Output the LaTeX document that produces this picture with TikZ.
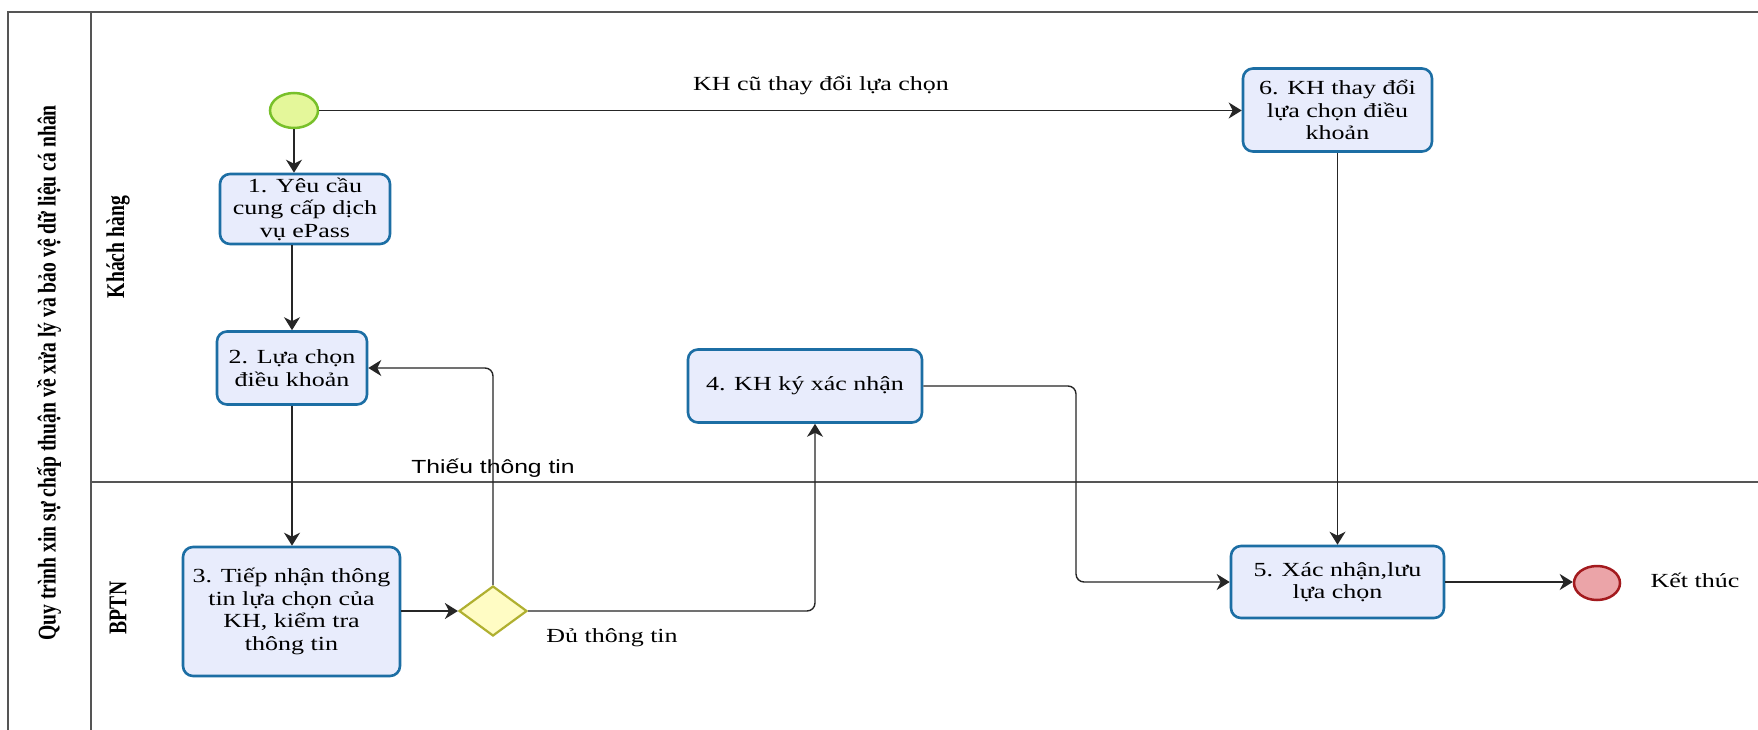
\documentclass[tikz,border=0pt]{standalone}
\usepackage{fontspec}
\setmainfont{Liberation Serif}
\newfontfamily\boxfont[FakeStretch=1.3]{Liberation Serif}
\newfontfamily\lblsans[FakeStretch=1.3]{Liberation Sans}
\newfontfamily\rotfont[FakeStretch=0.77]{Liberation Serif}
\usetikzlibrary{arrows.meta,shapes.geometric}
\definecolor{taskblue}{HTML}{1C6EA4}
\definecolor{taskfill}{HTML}{E8ECFC}
\definecolor{startline}{HTML}{78C02A}
\definecolor{startfill}{HTML}{E4F79A}
\definecolor{endline}{HTML}{A31A1E}
\definecolor{endfill}{HTML}{EBA4A8}
\definecolor{gateline}{HTML}{B0B030}
\definecolor{gatefill}{HTML}{FFFCC4}
\definecolor{poolgray}{HTML}{555555}
\begin{document}
\begin{tikzpicture}[x=1pt,y=-1pt,
  task/.style={draw=taskblue, line width=2.6pt, fill=taskfill, rounded corners=10pt,
    align=center, inner sep=0pt, font=\boxfont\fontsize{20}{22.5}\selectfont},
  conn/.style={draw=black!85, line width=1.4pt, -{Stealth[length=13pt,width=16pt,inset=4pt]}},
  pool/.style={draw=poolgray, line width=1.6pt},
  lbl/.style={font=\boxfont\fontsize{20}{22.5}\selectfont, inner sep=0pt},
  lane/.style={rotate=90, inner sep=0pt, font=\rotfont\bfseries\fontsize{25.5}{28}\selectfont}
]
\useasboundingbox (0,0) rectangle (1758,730);
\clip (0,0) rectangle (1758,730);
\fill[white] (0,0) rectangle (1758,730);

% pool and lanes
\draw[pool] (8,740) -- (8,12) -- (1770,12);
\draw[pool] (91,12) -- (91,740);
\draw[pool] (91,482) -- (1770,482);
\node[lane] (title) at (49,373) {Quy trình xin sự chấp thuận về xửa lý và bảo vệ dữ liệu cá nhân};
\node[lane] (lkh) at (118,247) {Khách hàng};
\node[lane] (lbp) at (118,608) {BPTN};

% events and gateway
\node[ellipse, draw=startline, fill=startfill, line width=2.5pt, minimum width=48pt, minimum height=35pt, inner sep=0pt] (s) at (294,110.5) {};
\node[ellipse, draw=endline, fill=endfill, line width=2.5pt, minimum width=46pt, minimum height=34pt, inner sep=0pt] (e) at (1597,583) {};
\node[diamond, draw=gateline, fill=gatefill, line width=2.2pt, minimum width=68pt, minimum height=50pt, inner sep=0pt] (d) at (493,611) {};

% tasks
\node[task, minimum width=170pt, minimum height=70pt] (b1) at (305,209) {1. Yêu cầu\\cung cấp dịch\\vụ ePass};
\node[task, minimum width=150pt, minimum height=73pt] (b2) at (292,368) {2. Lựa chọn\\điều khoản};
\node[task, minimum width=217pt, minimum height=129pt] (b3) at (291.5,611.5) {3. Tiếp nhận thông\\tin lựa chọn của\\KH, kiểm tra\\thông tin};
\node[task, minimum width=234pt, minimum height=73pt] (b4) at (805,386) {4. KH ký xác nhận};
\node[task, minimum width=189pt, minimum height=83pt] (b6) at (1337.5,110) {6. KH thay đổi\\lựa chọn điều\\khoản};
\node[task, minimum width=213pt, minimum height=72pt] (b5) at (1337.5,582) {5. Xác nhận,lưu\\lựa chọn};

% labels
\node[lbl] (l1) at (821,85) {KH cũ thay đổi lựa chọn};
\node[inner sep=0pt, font=\lblsans\fontsize{19}{22}\selectfont] (l2) at (493,468) {Thiếu thông tin};
\node[lbl] (l3) at (612,638) {Đủ thông tin};
\node[lbl] (l4) at (1695,580) {Kết thúc};

% helper coordinates
\coordinate (k4) at (815,0);
\coordinate (k5) at (1076,0);

% connectors
\draw[conn] (s.south) -- (s.south |- b1.north);
\draw[conn] (b2.north |- b1.south) -- (b2.north);
\draw[conn] (b2.south) -- (b2.south |- b3.north);
\draw[conn] (b3.east |- d.west) -- (d.west);
\draw[conn, rounded corners=8pt] (d.north) |- (b2.east);
\draw[conn, rounded corners=8pt] (d.east) -| (k4 |- b4.south);
\draw[conn, rounded corners=8pt] (b4.east) -- (b4.east -| k5) -- (k5 |- b5.west) -- (b5.west);
\draw[conn] (s.east) -- (s.east -| b6.west);
\draw[conn] (b6.south) -- (b5.north);
\draw[conn] (b5.east) -- (b5.east -| e.west);
\end{tikzpicture}
\end{document}
